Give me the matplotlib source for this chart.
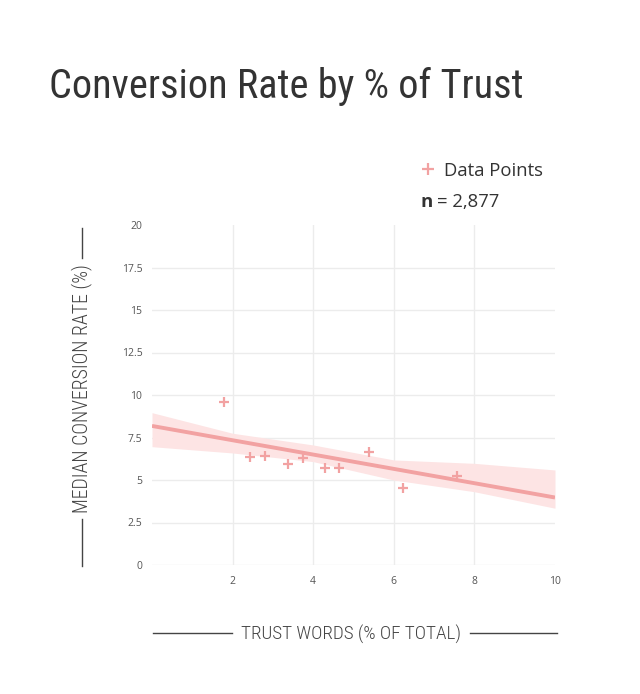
import matplotlib
matplotlib.use("Agg")
import matplotlib.pyplot as plt
from matplotlib.lines import Line2D
import numpy as np

# ---- data ----
trust_pct = [1.79, 2.43, 2.80, 3.37, 3.74, 4.29, 4.64, 5.38, 6.22, 7.57]
conv_rate = [9.60, 6.33, 6.41, 5.96, 6.31, 5.73, 5.73, 6.67, 4.55, 5.24]
fit_x = [0, 10]
fit_y = [8.18, 3.97]
band_x = [0, 2, 4, 6, 8, 10]
band_upper = [8.96, 7.75, 7.06, 6.18, 5.98, 5.59]
band_lower = [6.96, 6.59, 6.08, 5.00, 4.31, 3.34]
x_ticks = [2, 4, 6, 8, 10]
y_ticks = [0, 2.5, 5, 7.5, 10, 12.5, 15, 17.5, 20]
y_tick_labels = ["0", "2.5", "5", "7.5", "10", "12.5", "15", "17.5", "20"]
n_text = "2,877"

PINK = "#f2a2a2"
BAND = "#fde4e4"
GRID = "#ececec"
COND = "Roboto Condensed"
SANS = "Open Sans"

fig = plt.figure(figsize=(6.4, 6.94), dpi=100)
W, H = 640, 694
ax = fig.add_axes([152 / W, (H - 565) / H, 403 / W, 340 / H])

ax.fill_between(band_x, band_lower, band_upper, color=BAND, lw=0, zorder=1)
ax.plot(fit_x, fit_y, color=PINK, lw=2.8, solid_capstyle="butt", zorder=3)
ax.scatter(trust_pct, conv_rate, marker="+", s=50, color=PINK, linewidths=1.6, zorder=4)

ax.set_xlim(0, 10)
ax.set_ylim(0, 20)
for s in ax.spines.values():
    s.set_visible(False)

# grid lines
for yv in y_ticks[:-1]:
    ax.axhline(yv, color=GRID, lw=1, zorder=0)
for xv in x_ticks[:-1]:
    ax.axvline(xv, color=GRID, lw=1, zorder=0)

ax.set_xticks(x_ticks)
ax.set_xticklabels([str(v) for v in x_ticks])
ax.set_yticks(y_ticks)
ax.set_yticklabels(y_tick_labels)
ax.tick_params(axis="both", length=0, labelsize=7.5, labelcolor="#555555")
ax.tick_params(axis="x", pad=8)
ax.tick_params(axis="y", pad=7)
for lab in ax.get_xticklabels() + ax.get_yticklabels():
    lab.set_fontfamily(SANS)

# title
fig.text(49 / W, 1 - 86 / H, "Conversion Rate by % of Trust", fontsize=29, family=COND,
         color="#333333", va="center", ha="left")

# legend
fig.add_artist(Line2D([428 / W], [1 - 169 / H], marker="+", markersize=8, mew=1.6,
                      color=PINK, transform=fig.transFigure))
fig.text(444 / W, 1 - 171 / H, "Data Points", fontsize=13.3, family=SANS, color="#333333",
         va="center", ha="left")
fig.text(420 / W, 1 - 202 / H, "n", fontsize=13.3, family=SANS, fontweight="bold",
         color="#333333", va="center", ha="left")
fig.text(437 / W, 1 - 202 / H, "= " + n_text, fontsize=13.3, family=SANS, color="#333333",
         va="center", ha="left")

# y axis label with lines
fig.text(82 / W, 1 - 389 / H, "MEDIAN CONVERSION RATE (%)", rotation=90, fontsize=14.3,
         family=COND, fontweight="light", color="#444444", va="center", ha="center")
fig.add_artist(Line2D([82 / W, 82 / W], [1 - 228 / H, 1 - 258 / H], color="#444444",
                      lw=1, transform=fig.transFigure))
fig.add_artist(Line2D([82 / W, 82 / W], [1 - 519 / H, 1 - 566 / H], color="#444444",
                      lw=1, transform=fig.transFigure))

# x axis label with lines
fig.text(351 / W, 1 - 634 / H, "TRUST WORDS (% OF TOTAL)", fontsize=13.8, family=COND,
         fontweight="light", color="#444444", va="center", ha="center")
fig.add_artist(Line2D([153 / W, 232 / W], [1 - 633 / H, 1 - 633 / H], color="#444444",
                      lw=1, transform=fig.transFigure))
fig.add_artist(Line2D([470 / W, 557 / W], [1 - 633 / H, 1 - 633 / H], color="#444444",
                      lw=1, transform=fig.transFigure))

fig.savefig("out.png", dpi=100)
